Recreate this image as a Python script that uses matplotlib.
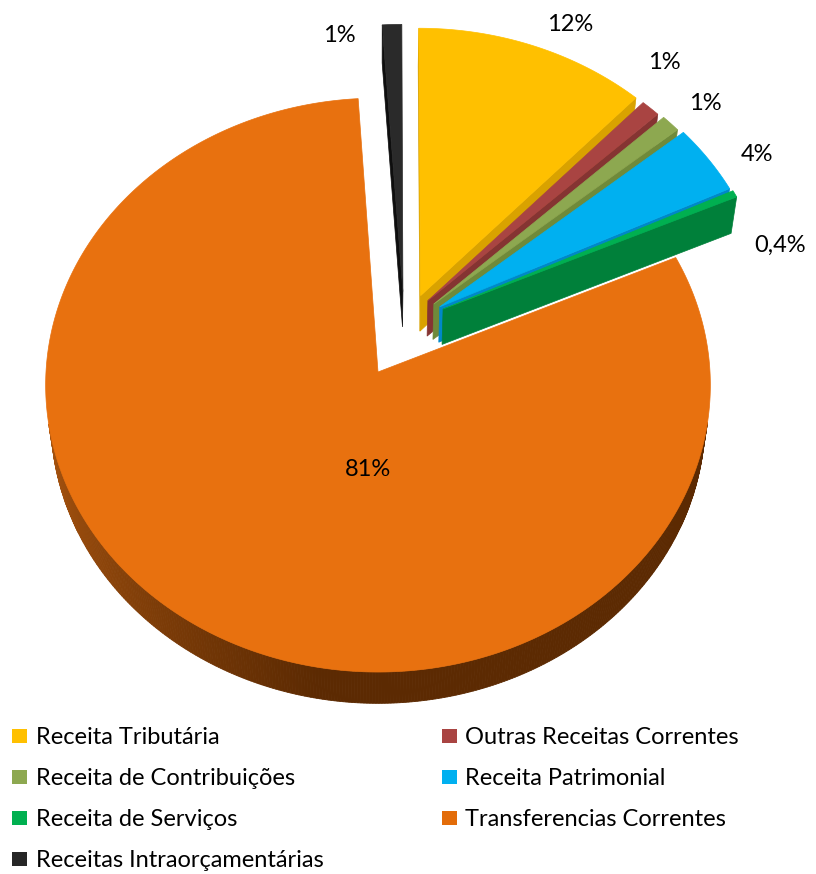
import numpy as np
import matplotlib.pyplot as plt
from matplotlib.patches import Polygon, Patch
from matplotlib.colors import to_rgb

plt.rcParams['font.family'] = ['Lato', 'DejaVu Sans']

categories = ['Receita Tributária', 'Outras Receitas Correntes',
              'Receita de Contribuições', 'Receita Patrimonial',
              'Receita de Serviços', 'Transferencias Correntes',
              'Receitas Intraorçamentárias']
values = [12, 1, 1, 4, 0.4, 81, 1]

top_colors = ['#FFC000', '#A94442', '#8DA850', '#00B0F0', '#00B050', '#E8710F', '#2A2A2A']
side_colors = ['#D9A200', '#853432', '#6F8A3A', '#0088C8', '#00803A', '#5C2A02', '#0E0E0E']
legend_colors = ['#FFC000', '#A94442', '#8DA850', '#00B0F0', '#00B050', '#E36C09', '#262626']

# slice offsets (explosion) in pie radius units
explode_u = [0.130, 0.152, 0.170, 0.188, 0.198, 0.0, 0.076]
explode_v = [0.270, 0.252, 0.240, 0.230, 0.222, 0.0, 0.285]

# label anchors (radius, angle) around the pie centre
label_r = [1.424, 1.456, 1.422, 1.419, 1.315, 0.338, 1.249]
label_a = [64.5, 51.4, 43.6, 33.6, 20.0, 265, 95.6]

# camera / projection setup (pixels)
W, H = 816, 874
cx, cy, R = 378, 372, 332
elev = np.radians(59.6)
se, ce = np.sin(elev), np.cos(elev)
D = 11.1
h = 0.21
cam = np.array([0.0, -D * ce, D * se])
FS = 17


def proj(u, v, z):
    u, v, z = np.asarray(u, float), np.asarray(v, float), np.asarray(z, float)
    w = v * ce - z * se
    yc = v * se + z * ce
    s = D / (D + w)
    return cx + R * u * s, cy - R * yc * s


def poly(pts3d):
    pts = np.array(pts3d)
    x, y = proj(pts[:, 0], pts[:, 1], pts[:, 2])
    return np.column_stack([x, y])


def visible(normal, point):
    return np.dot(normal, cam - np.asarray(point)) > 0


fig = plt.figure(figsize=(W / 100, H / 100), dpi=100)
ax = fig.add_axes([0, 0, 1, 1])
ax.set_xlim(0, W)
ax.set_ylim(H, 0)
ax.axis('off')

frac = np.array(values) / sum(values)
cum = np.concatenate([[0], np.cumsum(frac)])
theta1 = 90 - cum[:-1] * 360   # counter-clockwise edge
theta2 = 90 - cum[1:] * 360    # clockwise edge


def draw_slice(i, zorder):
    u0, v0 = explode_u[i], explode_v[i]
    a1, a2 = np.radians(theta1[i]), np.radians(theta2[i])
    n = max(int(abs(theta1[i] - theta2[i]) * 2), 4)
    t = np.linspace(a2, a1, n)

    # radial faces
    for a, nrm_a in ((a1, a1 + np.pi / 2), (a2, a2 - np.pi / 2)):
        nrm = np.array([np.cos(nrm_a), np.sin(nrm_a), 0])
        mid = [u0 + 0.5 * np.cos(a), v0 + 0.5 * np.sin(a), -h / 2]
        if visible(nrm, mid):
            q = [[u0, v0, 0], [u0 + np.cos(a), v0 + np.sin(a), 0],
                 [u0 + np.cos(a), v0 + np.sin(a), -h], [u0, v0, -h]]
            ax.add_patch(Polygon(poly(q), closed=True, fc=side_colors[i],
                                 ec=side_colors[i], lw=0.5, zorder=zorder))

    # outer curved face, shaded from left to right
    light = np.array([0.66, 0.33, 0.06])
    dark = np.array(to_rgb(side_colors[i]))
    for k in range(len(t) - 1):
        tm = 0.5 * (t[k] + t[k + 1])
        p = [u0 + np.cos(tm), v0 + np.sin(tm), -h / 2]
        if not visible(np.array([np.cos(tm), np.sin(tm), 0]), p):
            continue
        q = [[u0 + np.cos(t[k]), v0 + np.sin(t[k]), 0],
             [u0 + np.cos(t[k + 1]), v0 + np.sin(t[k + 1]), 0],
             [u0 + np.cos(t[k + 1]), v0 + np.sin(t[k + 1]), -h],
             [u0 + np.cos(t[k]), v0 + np.sin(t[k]), -h]]
        mix = np.clip(((np.degrees(tm) % 360) - 190) / 70, 0, 1)
        col = light * (1 - mix) + dark * mix if i == 5 else dark
        ax.add_patch(Polygon(poly(q), closed=True, fc=col, ec=col, lw=0.6,
                             zorder=zorder))

    # top face
    top = [[u0, v0, 0]] + [[u0 + np.cos(a), v0 + np.sin(a), 0] for a in t]
    ax.add_patch(Polygon(poly(top), closed=True, fc=top_colors[i],
                         ec=top_colors[i], lw=0.5, zorder=zorder + 0.5))

    # value label
    la = np.radians(label_a[i])
    lx, ly = proj(label_r[i] * np.cos(la), label_r[i] * np.sin(la), 0)
    txt = f"{values[i]:g}".replace('.', ',') + '%'
    ax.text(lx, ly, txt, ha='center', va='center', fontsize=FS,
            color='black', zorder=10)


# far slices first, the big near slice last
for z, i in enumerate([0, 1, 2, 3, 4, 6]):
    draw_slice(i, zorder=1 + z)
draw_slice(5, zorder=8)

order = [0, 2, 4, 6, 1, 3, 5]
handles = [Patch(facecolor=legend_colors[i], edgecolor='none') for i in order]
labels = [categories[i] for i in order]
fig.legend(handles, labels, loc='upper left', bbox_to_anchor=(0.0147, 0.168),
           ncol=2, frameon=False, fontsize=FS, handlelength=0.63,
           handleheight=0.56, handletextpad=0.38, columnspacing=5.0,
           labelspacing=0.85, borderpad=0, borderaxespad=0)

fig.savefig('out.png', dpi=100)
